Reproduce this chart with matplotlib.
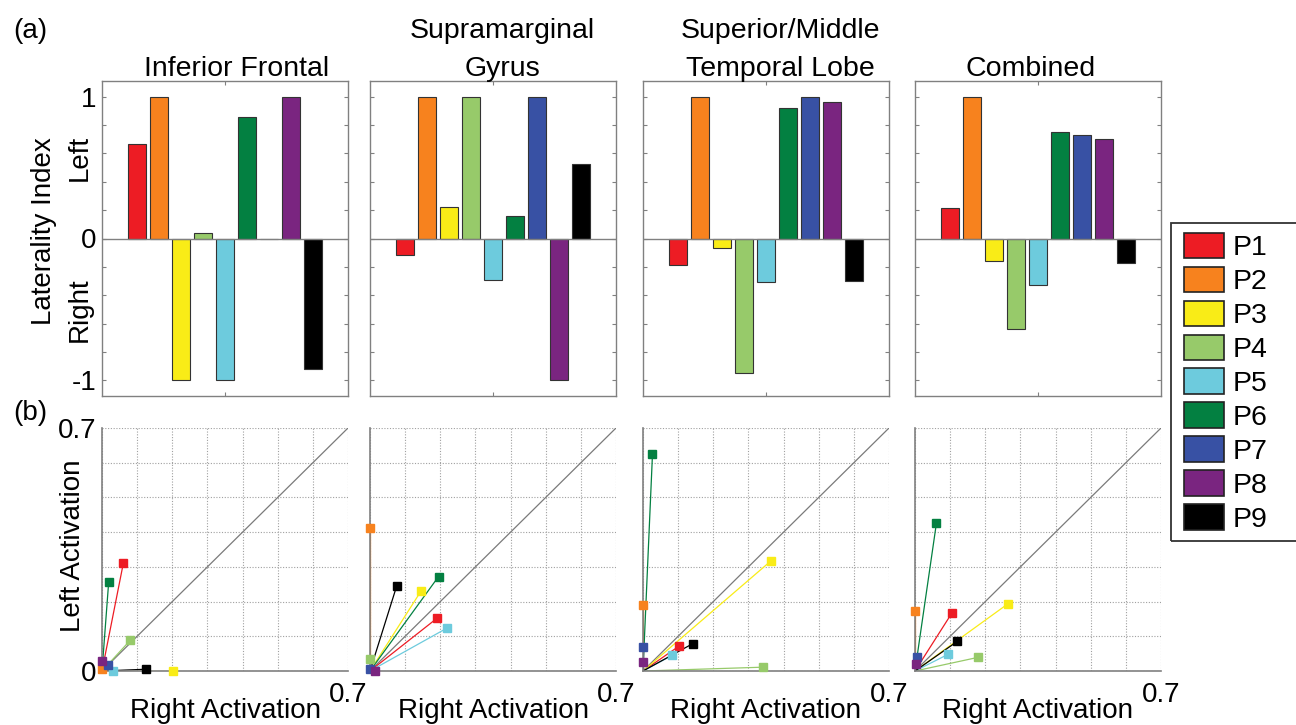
import matplotlib
matplotlib.use('Agg')
import matplotlib.pyplot as plt
import numpy as np
from matplotlib.patches import Patch, Rectangle

plt.rcParams['font.family'] = ['Liberation Sans', 'DejaVu Sans']

W, H = 1296, 725

participants = ['P1', 'P2', 'P3', 'P4', 'P5', 'P6', 'P7', 'P8', 'P9']
colors = ['#ED1C24', '#F7821E', '#F9EC17', '#97CA6A', '#6DCBDD',
          '#038041', '#3851A4', '#7A2580', '#000000']

title_lines = [['Inferior Frontal'], ['Supramarginal', 'Gyrus'],
               ['Superior/Middle', 'Temporal Lobe'], ['Combined']]

# (a) Laterality index per participant
li_inferior_frontal = [0.667, 1.0, -1.0, 0.038, -1.0, 0.859, -0.005, 1.0, -0.918]
li_supramarginal = [-0.117, 1.0, 0.223, 1.0, -0.291, 0.160, 1.0, -1.0, 0.523]
li_temporal = [-0.188, 1.0, -0.068, -0.951, -0.310, 0.918, 1.0, 0.965, -0.298]
li_combined = [0.218, 1.0, -0.157, -0.636, -0.326, 0.749, 0.732, 0.702, -0.174]

# (b) Right (x) and left (y) activation per participant
right_inferior_frontal = [0.061, 0.0, 0.201, 0.080, 0.032, 0.019, 0.016, 0.001, 0.124]
left_inferior_frontal = [0.312, 0.006, 0.0, 0.088, 0.0, 0.256, 0.018, 0.029, 0.005]
right_supramarginal = [0.192, 0.0, 0.145, 0.0, 0.218, 0.195, 0.0, 0.014, 0.076]
left_supramarginal = [0.153, 0.411, 0.230, 0.036, 0.123, 0.272, 0.005, 0.0, 0.245]
right_temporal = [0.103, 0.0, 0.365, 0.341, 0.083, 0.027, 0.0, 0.0, 0.142]
left_temporal = [0.072, 0.189, 0.318, 0.011, 0.045, 0.625, 0.068, 0.025, 0.079]
right_combined = [0.105, 0.0, 0.265, 0.178, 0.094, 0.061, 0.006, 0.003, 0.120]
left_combined = [0.167, 0.173, 0.194, 0.039, 0.048, 0.426, 0.039, 0.020, 0.085]

li_all = [li_inferior_frontal, li_supramarginal, li_temporal, li_combined]
right_all = [right_inferior_frontal, right_supramarginal, right_temporal, right_combined]
left_all = [left_inferior_frontal, left_supramarginal, left_temporal, left_combined]

li_ticks = np.round(np.arange(-1.0, 1.01, 0.2), 1)
li_ticklabels = ['-1' if t == -1 else ('0' if t == 0 else ('1' if t == 1 else '')) for t in li_ticks]
act_ticks = np.round(np.arange(0.0, 0.71, 0.1), 1)
act_ylabels = ['0', '', '', '', '', '', '', '0.7']
act_xlabels = ['', '', '', '', '', '', '', '0.7']

panel_left = [102, 370, 643, 915]
panel_width = 246
title_cx = [237, 502, 780, 1031]

spine_col = '#808080'

fig = plt.figure(figsize=(W / 100, H / 100), dpi=100)

def fx(x):
    return x / W

def fy(y):
    return 1 - y / H

for i in range(4):
    # ---- top: laterality index bars
    ax = fig.add_axes([fx(panel_left[i]), fy(396), panel_width / W, 315 / H])
    xpos = np.arange(1, len(participants) + 1)
    ax.bar(xpos, li_all[i], width=0.8, color=colors, edgecolor='#333333',
           linewidth=0.8, zorder=2)
    ax.axhline(0, color=spine_col, lw=1.0, zorder=3)
    ax.set_xlim(-0.6, 10.6)
    ax.set_ylim(-1.11, 1.11)
    ax.set_xticks([5])
    ax.set_xticklabels([])
    ax.set_yticks(li_ticks)
    if i == 0:
        ax.set_yticklabels(li_ticklabels)
    else:
        ax.set_yticklabels([])
    ax.tick_params(direction='in', length=3, width=0.8, color=spine_col,
                   top=True, right=True, labelsize=20, pad=4)
    for s in ax.spines.values():
        s.set_color(spine_col)
        s.set_linewidth(1.0)
    # titles
    lines = title_lines[i]
    bases = [76] if len(lines) == 1 else [38, 76]
    for ln, b in zip(lines, bases):
        fig.text(fx(title_cx[i]), fy(b), ln, ha='center', va='baseline', fontsize=20.5)

    # ---- bottom: activation scatter
    bx = fig.add_axes([fx(panel_left[i]), fy(671), panel_width / W, 243 / H])
    bx.set_xlim(0, 0.7)
    bx.set_ylim(0, 0.7)
    bx.set_xticks(act_ticks)
    bx.set_yticks(act_ticks)
    bx.set_xticklabels(act_xlabels)
    if i == 0:
        bx.set_yticklabels(act_ylabels)
    else:
        bx.set_yticklabels([])
    bx.tick_params(axis='x', length=0, labelsize=20, pad=8)
    bx.tick_params(axis='y', length=0, labelsize=20, pad=4)
    bx.grid(True, linestyle=(0, (1, 1.5)), color='#a0a0a0', linewidth=0.8)
    bx.set_axisbelow(True)
    for side in ['top', 'right']:
        bx.spines[side].set_visible(False)
    for side in ['left', 'bottom']:
        bx.spines[side].set_color(spine_col)
        bx.spines[side].set_linewidth(1.2)
        bx.spines[side].set_zorder(2.6)
    bx.axline((0, 0), slope=1, color='#7a7a7a', lw=0.9, zorder=2)
    for r, l, c in zip(right_all[i], left_all[i], colors):
        bx.plot([0, r], [0, l], color=c, lw=0.9, zorder=2.2)
    for r, l, c in zip(right_all[i], left_all[i], colors):
        bx.plot([r], [l], 's', ms=5.8, mfc=c, mec=c, clip_on=False, zorder=4)
    fig.text(fx(panel_left[i] + panel_width / 2), fy(718), 'Right Activation',
             ha='center', va='baseline', fontsize=20)

fig.text(fx(30), fy(31), '(a)', ha='center', va='center', fontsize=20)
fig.text(fx(30), fy(413), '(b)', ha='center', va='center', fontsize=20)
fig.text(fx(44), fy(231), 'Laterality Index', rotation=90, ha='center', va='center', fontsize=20)
fig.text(fx(80), fy(158), 'Left', rotation=90, ha='center', va='center', fontsize=20)
fig.text(fx(80), fy(310), 'Right', rotation=90, ha='center', va='center', fontsize=20)
fig.text(fx(73), fy(546), 'Left Activation', rotation=90, ha='center', va='center', fontsize=20)

handles = [Patch(facecolor=c, edgecolor='#222222', linewidth=1.2) for c in colors]
fig.legend(handles, participants, loc='upper left',
           bbox_to_anchor=(fx(1171), fy(220)), frameon=False, fontsize=20.5,
           handlelength=1.4, handleheight=1.0, handletextpad=0.3,
           borderpad=0.45, labelspacing=0.19, borderaxespad=0)
fig.add_artist(Rectangle((fx(1171), fy(541)), fx(1320 - 1171), 318 / H,
                         transform=fig.transFigure, fill=False,
                         edgecolor='#333333', linewidth=1.3))

fig.savefig('out.png', dpi=100)
